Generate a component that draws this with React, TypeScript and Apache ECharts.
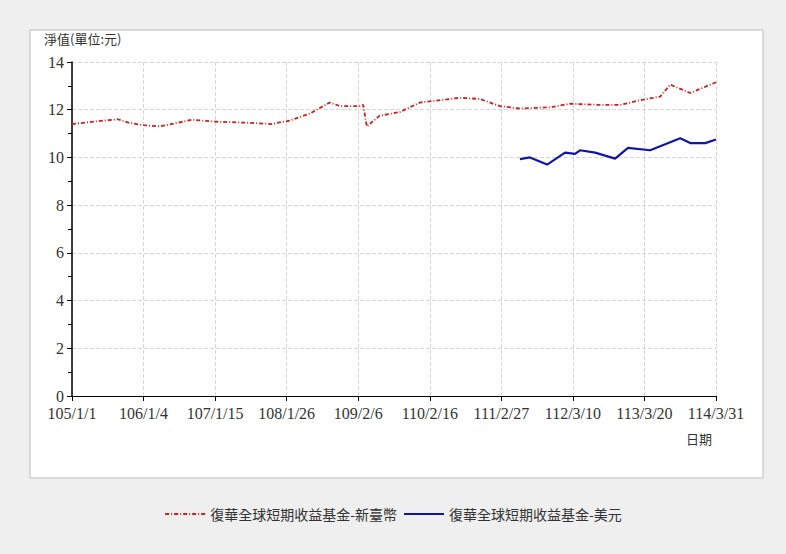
import { useEffect, useRef } from 'react';
import * as echarts from 'echarts';

const xLabels = ['105/1/1', '106/1/4', '107/1/15', '108/1/26', '109/2/6', '110/2/16', '111/2/27', '112/3/10', '113/3/20', '114/3/31'];
// x in label-interval units (0 = 105/1/1 ... 9 = 114/3/31)
const twdX = [0, 0.3, 0.64, 0.8, 1.0, 1.23, 1.68, 2.0, 2.49, 2.79, 3.05, 3.33, 3.54, 3.6, 3.75, 4.02, 4.07, 4.12, 4.3, 4.58, 4.86, 5.42, 5.7, 5.98, 6.26, 6.68, 6.96, 7.38, 7.66, 7.94, 8.22, 8.36, 8.64, 9];
const twdY = [11.4, 11.5, 11.6, 11.45, 11.35, 11.3, 11.58, 11.5, 11.45, 11.4, 11.55, 11.85, 12.2, 12.3, 12.15, 12.15, 12.2, 11.3, 11.75, 11.9, 12.3, 12.5, 12.45, 12.15, 12.05, 12.1, 12.25, 12.2, 12.2, 12.4, 12.55, 13.05, 12.7, 13.15];
const usdX = [6.26, 6.4, 6.64, 6.89, 7.03, 7.1, 7.31, 7.59, 7.77, 8.08, 8.5, 8.64, 8.85, 9];
const usdY = [9.93, 10.0, 9.7, 10.2, 10.15, 10.3, 10.2, 9.95, 10.4, 10.3, 10.8, 10.6, 10.6, 10.75];

const twdData = twdX.map((x, i) => [x, twdY[i]]);
const usdData = usdX.map((x, i) => [x, usdY[i]]);

const numFont = 'Liberation Serif';
const cjkFont = '"Noto Sans CJK TC"';

export default function App() {
  const ref = useRef<HTMLDivElement>(null);
  useEffect(() => {
    if (!ref.current) return;
    const chart = echarts.init(ref.current, null, { renderer: 'svg' });
    chart.setOption({
      animation: false,
      backgroundColor: '#efefef',
      graphic: [
        { type: 'rect', z: -10, shape: { x: 30, y: 30, width: 733, height: 448 }, style: { fill: '#fff', stroke: '#bcbcbc', lineWidth: 1 } },
        { type: 'text', left: 44, top: 32, style: { text: '淨值(單位:元)', font: `13px ${cjkFont}`, fill: '#333' } },
        { type: 'text', left: 686, top: 432, style: { text: '日期', font: `13px ${cjkFont}`, fill: '#333' } }
      ],
      grid: { left: 72, right: 70, top: 62, bottom: 158 },
      legend: {
        bottom: 28,
        left: 'center',
        itemWidth: 40,
        itemGap: 6,
        itemStyle: { opacity: 0 },
        textStyle: { fontFamily: cjkFont, fontSize: 14, color: '#333' },
        data: ['復華全球短期收益基金-新臺幣', '復華全球短期收益基金-美元']
      },
      xAxis: {
        type: 'value', min: 0, max: 9, interval: 1,
        axisLine: { lineStyle: { color: '#000' } },
        axisTick: { show: true, lineStyle: { color: '#000' } },
        axisLabel: { color: '#333', fontFamily: numFont, fontSize: 16, margin: 9, formatter: (v: number) => xLabels[v] ?? '' },
        splitLine: { show: true, lineStyle: { color: '#d6d6d6', type: 'dashed' } }
      },
      yAxis: {
        type: 'value', min: 0, max: 14, interval: 2,
        axisLine: { show: true, lineStyle: { color: '#000', width: 1.5 } },
        axisTick: { show: true, length: 5, lineStyle: { color: '#000' } },
        minorTick: { show: true, splitNumber: 2, length: 4, lineStyle: { color: '#000' } },
        axisLabel: { color: '#333', fontFamily: numFont, fontSize: 16, margin: 8 },
        splitLine: { show: true, lineStyle: { color: '#d6d6d6', type: 'dashed' } }
      },
      series: [
        {
          name: '復華全球短期收益基金-新臺幣', type: 'line', data: twdData, symbol: 'none',
          lineStyle: { color: '#cc1f1f', width: 1.8, type: [4, 2, 1, 2] }, itemStyle: { color: '#cc1f1f' }
        },
        {
          name: '復華全球短期收益基金-美元', type: 'line', data: usdData, symbol: 'none',
          lineStyle: { color: '#1414a8', width: 2.2 }, itemStyle: { color: '#1414a8' }
        }
      ]
    });
    return () => chart.dispose();
  }, []);
  return <div ref={ref} style={{ position: 'absolute', left: 0, top: 0, width: 786, height: 554 }} />;
}
